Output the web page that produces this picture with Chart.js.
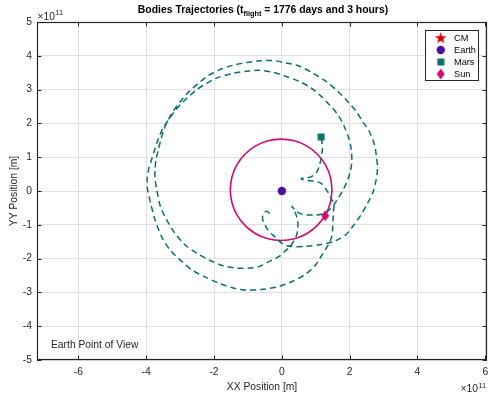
<!DOCTYPE html>
<html><head><meta charset="utf-8">
<script src="https://cdn.jsdelivr.net/npm/chart.js@4.4.1/dist/chart.umd.min.js"></script>
<style>html,body{margin:0;padding:0;background:#fff}#w{width:498px;height:395px}</style>
</head><body><div id="w"><canvas id="c" width="498" height="395"></canvas></div>
<script>
// ---- data (units of 1e11 m) ----
const xTicks = [-6, -4, -2, 0, 2, 4, 6];
const yTicks = [-5, -4, -3, -2, -1, 0, 1, 2, 3, 4, 5];
const marsX = [-0.36,-0.45,-0.54,-0.57,-0.51,-0.45,-0.36,-0.21,0.02,0.28,0.67,1.11,1.55,1.89,2.09,2.34,2.53,2.68,2.78,2.82,
  2.79,2.73,2.58,2.38,2.19,1.94,1.65,1.31,0.91,0.52,0.13,-0.26,-0.66,-1.05,-1.44,-1.83,-2.19,-2.47,-2.74,-2.98,
  -3.19,-3.35,-3.47,-3.56,-3.64,-3.71,-3.74,-3.74,-3.69,-3.58,-3.40,-3.16,-2.86,-2.52,-2.13,-1.74,-1.34,-0.95,-0.66,-0.36,
  -0.07,0.08,0.23,0.34,0.43,0.47,0.47,0.43,0.36,0.30,0.40,0.55,0.76,0.99,1.17,1.34,1.52,1.67,1.81,1.93,
  2.02,2.06,2.05,1.97,1.84,1.65,1.40,1.16,0.86,0.52,0.13,-0.26,-0.66,-1.05,-1.44,-1.93,-2.24,-2.51,-2.74,-2.95,
  -3.16,-3.35,-3.52,-3.65,-3.75,-3.84,-3.93,-3.97,-3.96,-3.87,-3.74,-3.55,-3.30,-3.01,-2.66,-2.27,-1.88,-1.44,-1.05,-0.56,
  -0.07,0.32,0.67,0.96,1.16,1.31,1.40,1.48,1.50,1.51,1.52,1.54,1.46,1.33,1.17,0.96,0.76,0.61,0.56,0.61,
  0.76,0.90,1.02,1.11,1.16,1.20,1.16];
const marsY = [-0.67,-0.60,-0.67,-0.82,-0.97,-1.09,-1.21,-1.35,-1.56,-1.64,-1.64,-1.59,-1.49,-1.29,-1.05,-0.70,-0.36,-0.06,0.33,0.68,
  1.02,1.37,1.76,2.06,2.36,2.65,2.95,3.24,3.49,3.69,3.79,3.86,3.85,3.80,3.72,3.59,3.40,3.18,2.94,2.66,
  2.38,2.11,1.84,1.55,1.23,0.93,0.63,0.38,0.04,-0.46,-0.85,-1.24,-1.59,-1.83,-2.05,-2.21,-2.28,-2.28,-2.23,-2.08,
  -1.93,-1.79,-1.66,-1.50,-1.32,-1.12,-0.91,-0.73,-0.57,-0.45,-0.58,-0.67,-0.71,-0.71,-0.69,-0.61,-0.43,-0.20,0.04,0.30,
  0.57,0.84,1.22,1.57,1.91,2.26,2.55,2.80,3.05,3.24,3.39,3.51,3.57,3.54,3.48,3.34,3.17,3.00,2.80,2.60,
  2.36,2.09,1.83,1.52,1.22,0.93,0.63,0.38,0.04,-0.36,-0.85,-1.34,-1.74,-2.03,-2.33,-2.54,-2.72,-2.87,-2.93,-2.91,
  -2.82,-2.67,-2.48,-2.23,-1.93,-1.69,-1.54,-1.32,-1.09,-0.85,-0.61,-0.41,-0.23,0.01,0.22,0.29,0.31,0.34,0.36,0.38,
  0.39,0.44,0.54,0.75,1.01,1.28,1.60];
const sunX = [1.48,1.429,1.279,1.041,0.73,0.368,-0.02,-0.408,-0.77,-1.081,-1.319,-1.469,-1.52,-1.469,-1.319,-1.081,-0.77,-0.408,-0.02,0.368,0.73,1.041,1.279,1.429,1.48];
const sunY = [0.035,0.423,0.785,1.096,1.334,1.484,1.535,1.484,1.334,1.096,0.785,0.423,0.035,-0.353,-0.715,-1.026,-1.264,-1.414,-1.465,-1.414,-1.264,-1.026,-0.715,-0.353,0.035];
const bodyNames = ['CM', 'Earth', 'Mars', 'Sun'];
const bodyX = [1.28, 0, 1.16, 1.28];
const bodyY = [-0.73, 0, 1.60, -0.73];

// ---- styles ----
const FONT = "'Liberation Sans', Arial, Helvetica, sans-serif";
const TEAL = '#0d6e6e', MAG = '#d6076e', PURP = '#4d0ca2', RED = '#d90000', AX = '#262626';
function mk(w, h, draw) { const c = document.createElement('canvas'); c.width = w; c.height = h; draw(c.getContext('2d'), w, h); return c; }
function star(size) { return mk(size, size, g => { g.fillStyle = RED; g.beginPath(); const c = size / 2, R = size * 0.48, r = R * 0.4; for (let i = 0; i < 10; i++) { const rr = i % 2 ? r : R; const a = -Math.PI / 2 + i * Math.PI / 5; g.lineTo(c + rr * Math.cos(a), c + 0.5 + rr * Math.sin(a)); } g.closePath(); g.fill(); }); }
const starImg = star(13);
const cmImg = star(6);
const earthImg = mk(10, 10, g => { g.fillStyle = PURP; g.beginPath(); g.arc(5, 5, 4.2, 0, 2 * Math.PI); g.fill(); });
const marsImg = mk(8, 8, g => { g.fillStyle = TEAL; g.fillRect(0.5, 0.5, 7, 7); });
const sunImg = mk(9, 12, g => { g.fillStyle = MAG; g.beginPath(); g.moveTo(4.5, 0.5); g.lineTo(8.5, 6); g.lineTo(4.5, 11.5); g.lineTo(0.5, 6); g.closePath(); g.fill(); });
const imgs = [starImg, earthImg, marsImg, sunImg];

const pts = (xs, ys) => xs.map((v, i) => ({ x: v, y: ys[i] }));

const deco = {
  id: 'deco',
  afterDraw(chart) {
    const { ctx, chartArea: a, scales: { x, y } } = chart;
    ctx.save();
    ctx.strokeStyle = AX; ctx.lineWidth = 1;
    ctx.beginPath();
    xTicks.forEach(v => { const p = Math.round(x.getPixelForValue(v)) + 0.5; ctx.moveTo(p, a.bottom); ctx.lineTo(p, a.bottom - 4.5); ctx.moveTo(p, a.top); ctx.lineTo(p, a.top + 4.5); });
    yTicks.forEach(v => { const p = Math.round(y.getPixelForValue(v)) + 0.5; ctx.moveTo(a.left, p); ctx.lineTo(a.left + 4.5, p); ctx.moveTo(a.right, p); ctx.lineTo(a.right - 4.5, p); });
    ctx.stroke();
    ctx.lineWidth = 1.2;
    ctx.strokeRect(a.left + 0.5, a.top + 0.5, a.right - a.left - 1, a.bottom - a.top - 1);
    ctx.fillStyle = AX; ctx.textBaseline = 'alphabetic'; ctx.textAlign = 'left';
    const exp = (x0, yb) => { ctx.font = '10.3px ' + FONT; ctx.fillText('×10', x0, yb); const w = ctx.measureText('×10').width; ctx.font = '7.4px ' + FONT; ctx.fillText('11', x0 + w + 0.5, yb - 4.5); };
    exp(37.5, 19.5);
    exp(460.5, 392);
    const t1 = 'Bodies Trajectories (t', t2 = 'flight', t3 = ' = 1776 days and 3 hours)';
    ctx.fillStyle = '#000';
    ctx.font = 'bold 10.4px ' + FONT; const w1 = ctx.measureText(t1).width, w3 = ctx.measureText(t3).width;
    ctx.font = 'bold 7.3px ' + FONT; const w2 = ctx.measureText(t2).width;
    let tx = (a.left + a.right) / 2 + 1 - (w1 + w2 + w3) / 2;
    ctx.font = 'bold 10.4px ' + FONT; ctx.fillText(t1, tx, 13);
    ctx.font = 'bold 7.3px ' + FONT; ctx.fillText(t2, tx + w1, 15.8);
    ctx.font = 'bold 10.4px ' + FONT; ctx.fillText(t3, tx + w1 + w2, 13);
    ctx.fillStyle = AX; ctx.font = '10.3px ' + FONT; ctx.fillText('Earth Point of View', 51, 347.5);
    const L = 425, T = 30, R = 479, B = 81;
    ctx.fillStyle = '#fff'; ctx.fillRect(L, T, R - L, B - T);
    ctx.strokeStyle = AX; ctx.lineWidth = 1; ctx.strokeRect(L + 0.5, T + 0.5, R - L - 1, B - T - 1);
    const rows = [37.8, 50, 62, 74];
    ctx.textBaseline = 'middle'; ctx.fillStyle = '#000'; ctx.font = '9.2px ' + FONT;
    bodyNames.forEach((n, i) => {
      const im = imgs[i];
      ctx.drawImage(im, 440.7 - im.width / 2, rows[i] - im.height / 2);
      ctx.fillText(n, 454, rows[i] + 0.5);
    });
    ctx.restore();
  }
};

new Chart(document.getElementById('c'), {
  type: 'scatter',
  data: {
    datasets: [
      { label: 'Sun', data: [{ x: bodyX[3], y: bodyY[3] }], pointStyle: sunImg, order: 0 },
      { label: 'Mars', data: [{ x: bodyX[2], y: bodyY[2] }], pointStyle: marsImg, order: 1 },
      { label: 'Earth', data: [{ x: bodyX[1], y: bodyY[1] }], pointStyle: earthImg, order: 2 },
      { label: 'CM', data: [{ x: bodyX[0], y: bodyY[0] }], pointStyle: cmImg, order: 3 },
      { label: 'Mars path', data: pts(marsX, marsY), showLine: true, pointRadius: 0, borderColor: TEAL, borderWidth: 1.5, borderDash: [6, 4], tension: 0.3, order: 4 },
      { label: 'Sun path', data: pts(sunX, sunY), showLine: true, pointRadius: 0, borderColor: MAG, borderWidth: 1.6, tension: 0.4, order: 5 }
    ]
  },
  options: {
    animation: false, responsive: false, events: [],
    layout: { padding: { left: 0, top: 22, right: 11, bottom: 0 } },
    plugins: { legend: { display: false }, tooltip: { enabled: false }, title: { display: false } },
    scales: {
      x: {
        min: -7.22, max: 6.05,
        afterBuildTicks: s => { s.ticks = xTicks.map(v => ({ value: v })); },
        afterFit: s => { s.height = 35; },
        grid: { color: '#e0e0e0', lineWidth: 1, drawTicks: false },
        border: { display: false },
        ticks: { padding: 6, color: AX, font: { family: FONT, size: 10.3 } },
        title: { display: true, text: 'XX Position [m]', color: AX, font: { family: FONT, size: 10.3 }, padding: { top: 0, bottom: 2 } }
      },
      y: {
        min: -5, max: 5,
        afterBuildTicks: s => { s.ticks = yTicks.map(v => ({ value: v })); },
        afterFit: s => { s.width = 37; },
        grid: { color: '#e0e0e0', lineWidth: 1, drawTicks: false },
        border: { display: false },
        ticks: { padding: 5, color: AX, font: { family: FONT, size: 10.3 } },
        title: { display: true, text: 'YY Position [m]', color: AX, font: { family: FONT, size: 10.3 }, padding: { top: 8, bottom: 0 } }
      }
    }
  },
  plugins: [deco]
});
</script></body></html>
